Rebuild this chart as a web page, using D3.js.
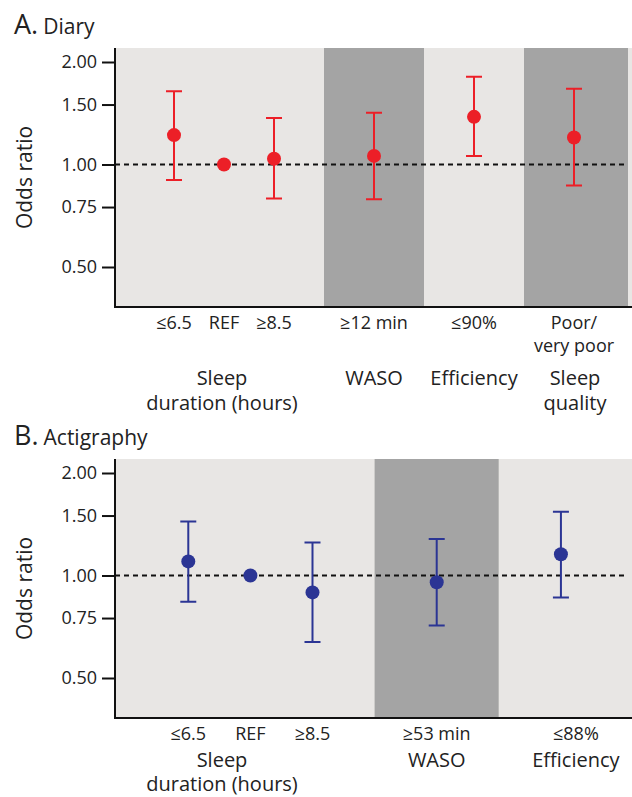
<!DOCTYPE html>
<html>
<head>
<meta charset="utf-8">
<script src="https://cdn.jsdelivr.net/npm/d3@7"></script>
<style>
  body { margin: 0; background: #fff; }
  svg { display: block; font-family: "Open Sans", sans-serif; }
</style>
</head>
<body>
<svg id="chart" width="632" height="797"></svg>
<script>
// odds ratios
var yTicks = [0.5, 0.75, 1, 1.5, 2];

var diaryGroups = ["Sleep\nduration (hours)", "WASO", "Efficiency", "Sleep\nquality"];
var diaryGroupSizes = [3, 1, 1, 1];
var diaryCats = ["≤6.5", "REF", "≥8.5", "≥12 min", "≤90%", "Poor/\nvery poor"];
var diaryOR = [1.22, 1.00, 1.04, 1.06, 1.38, 1.20];
var diaryLower = [0.90, null, 0.795, 0.79, 1.06, 0.867];
var diaryUpper = [1.64, null, 1.37, 1.42, 1.81, 1.67];

var actiGroups = ["Sleep\nduration (hours)", "WASO", "Efficiency"];
var actiGroupSizes = [3, 1, 1];
var actiCats = ["≤6.5", "REF", "≥8.5", "≥53 min", "≤88%"];
var actiOR = [1.10, 1.00, 0.892, 0.955, 1.155];
var actiLower = [0.837, null, 0.638, 0.713, 0.862];
var actiUpper = [1.44, null, 1.25, 1.28, 1.54];

var svg = d3.select("#chart");
var light = "#e8e6e4", dark = "#a4a4a4";
var left = 115, right = 628, plotH = 259;

function panel(opt) {
  var top = opt.top, bottom = top + plotH;
  var g = svg.append("g");

  // categories with a gap key between groups
  var keys = [], gapKeys = [], k = 0;
  opt.sizes.forEach(function (n, gi) {
    if (gi > 0) { keys.push("gap" + gi); gapKeys.push("gap" + gi); }
    for (var j = 0; j < n; j++) { keys.push("c" + k); k++; }
  });
  var step = (right - left) / (keys.length - 1 + 2.26);
  var x = d3.scalePoint().domain(keys)
    .range([left + 1.18 * step, left + 1.18 * step + (keys.length - 1) * step]);

  var y = d3.scaleLog().domain([0.5, 2]).range([top + 219, top + 14]);
  y.domain([y.invert(bottom), y.invert(top)]).range([bottom, top]);

  // background bands
  g.append("rect").attr("x", left).attr("y", top)
    .attr("width", 632 - left).attr("height", plotH).attr("fill", light);
  var edges = [left].concat(gapKeys.map(function (d) { return x(d); })).concat([right]);
  g.selectAll(".band").data(opt.groups).enter().append("rect")
    .attr("x", function (d, i) { return edges[i]; })
    .attr("y", top)
    .attr("width", function (d, i) { return edges[i + 1] - edges[i]; })
    .attr("height", plotH)
    .attr("fill", function (d, i) { return i % 2 ? dark : light; });

  // reference line
  g.append("line").attr("x1", left).attr("x2", right)
    .attr("y1", y(1)).attr("y2", y(1))
    .attr("stroke", "#111").attr("stroke-width", 2).attr("stroke-dasharray", "5,4");

  // axes
  var axis = g.append("g").attr("transform", "translate(" + left + ",0)")
    .call(d3.axisLeft(y).tickValues(yTicks).tickFormat(d3.format(".2f"))
      .tickSize(13).tickSizeOuter(0).tickPadding(5));
  axis.select(".domain").remove();
  axis.selectAll("line").attr("stroke", "#111").attr("stroke-width", 2);
  axis.selectAll("text").attr("font-size", 18).attr("fill", "#222")
    .attr("font-family", "Open Sans");
  g.append("path").attr("d", "M" + left + "," + top + "V" + bottom + "H632")
    .attr("fill", "none").attr("stroke", "#111").attr("stroke-width", 2);

  // error bars and points
  var rows = opt.cats.map(function (c, i) {
    return { key: "c" + i, or: opt.or[i], lo: opt.lo[i], hi: opt.hi[i] };
  });
  var bars = rows.filter(function (d) { return d.lo != null; });
  g.selectAll(".eb").data(bars).enter().append("path")
    .attr("d", function (d) {
      var cx = x(d.key);
      return "M" + (cx - 8) + "," + y(d.hi) + "H" + (cx + 8) +
        "M" + cx + "," + y(d.hi) + "V" + y(d.lo) +
        "M" + (cx - 8) + "," + y(d.lo) + "H" + (cx + 8);
    })
    .attr("fill", "none").attr("stroke", opt.color).attr("stroke-width", 2);
  g.selectAll(".pt").data(rows).enter().append("circle")
    .attr("cx", function (d) { return x(d.key); })
    .attr("cy", function (d) { return y(d.or); })
    .attr("r", 7).attr("fill", opt.color);

  // category labels
  g.selectAll(".cat").data(opt.cats).enter().append("text")
    .attr("x", function (d, i) { return x("c" + i) + (opt.catShift[i] || 0); })
    .attr("y", bottom + opt.catY)
    .attr("text-anchor", "middle").attr("font-size", 18).attr("fill", "#222")
    .each(function (d) {
      var t = d3.select(this), lines = d.split("\n");
      lines.forEach(function (l, li) {
        t.append("tspan").attr("x", t.attr("x")).attr("dy", li ? 23 : 0).text(l);
      });
    });

  // group labels
  var start = 0;
  opt.groups.forEach(function (gName, gi) {
    var ks = d3.range(start, start + opt.sizes[gi]).map(function (j) { return x("c" + j); });
    start += opt.sizes[gi];
    var cx = gi === 0 ? 222 : d3.mean(ks) + (opt.groupShift[gi] || 0);
    var t = g.append("text").attr("x", cx).attr("y", bottom + opt.groupY)
      .attr("text-anchor", "middle").attr("font-size", 20).attr("fill", "#222");
    gName.split("\n").forEach(function (l, li) {
      t.append("tspan").attr("x", cx).attr("dy", li ? opt.groupLine : 0).text(l);
    });
  });

  // title
  var title = g.append("text").attr("x", 14).attr("y", top - 14.5).attr("fill", "#222");
  title.append("tspan").attr("font-size", 27).text(opt.letter);
  title.append("tspan").attr("font-size", 21).attr("dx", 5).text(opt.title);

  // y label
  g.append("text")
    .attr("transform", "translate(32," + (top + plotH / 2) + ") rotate(-90)")
    .attr("text-anchor", "middle").attr("font-size", 21).attr("fill", "#222")
    .text("Odds ratio");
}

panel({
  top: 48, letter: "A.", title: "Diary", color: "#ec1f27",
  groups: diaryGroups, sizes: diaryGroupSizes, cats: diaryCats,
  or: diaryOR, lo: diaryLower, hi: diaryUpper,
  catY: 22, groupY: 78, groupLine: 25, catShift: [], groupShift: [0, 0, 0, 1]
});

panel({
  top: 459, letter: "B.", title: "Actigraphy", color: "#2b3594",
  groups: actiGroups, sizes: actiGroupSizes, cats: actiCats,
  or: actiOR, lo: actiLower, hi: actiUpper,
  catY: 22, groupY: 48.5, groupLine: 24, catShift: [0, 0, 0, 0, 15], groupShift: [0, 0, 15]
});
</script>
</body>
</html>
